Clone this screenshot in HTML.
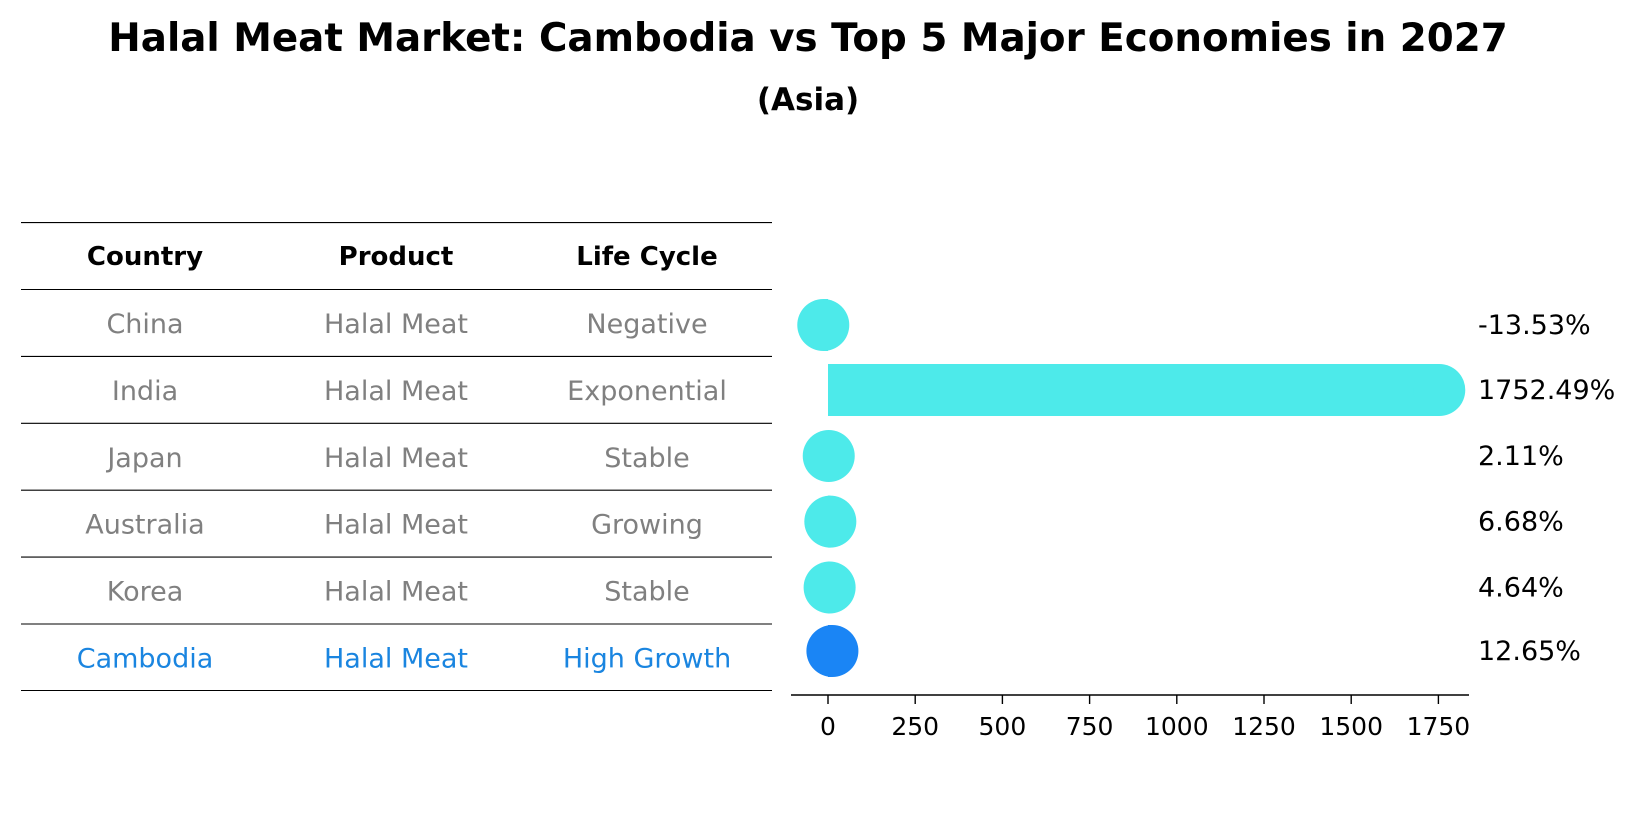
<!DOCTYPE html>
<html><head><meta charset="utf-8">
<style>
body{margin:0;background:#fff;}
svg{display:block;font-family:"DejaVu Sans","Liberation Sans",sans-serif;}
</style></head>
<body>
<svg id="chart" width="1639" height="823">
<text x="808" y="51" text-anchor="middle" font-size="38.8" font-weight="bold">Halal Meat Market: Cambodia vs Top 5 Major Economies in 2027</text>
<text x="808" y="110" text-anchor="middle" font-size="31" font-weight="bold">(Asia)</text>
<g id="table"></g>
<g id="bars"></g>
<g id="axis"></g>
</svg>
<script>
const countries=["China","India","Japan","Australia","Korea","Cambodia"];
const products=["Halal Meat","Halal Meat","Halal Meat","Halal Meat","Halal Meat","Halal Meat"];
const lifeCycles=["Negative","Exponential","Stable","Growing","Stable","High Growth"];
const growth=[-13.53,1752.49,2.11,6.68,4.64,12.65];
const ticks=[0,250,500,750,1000,1250,1500,1750];
const NS="http://www.w3.org/2000/svg";
function mk(t,a,p){const e=document.createElementNS(NS,t);for(const k in a)e.setAttribute(k,a[k]);p.appendChild(e);return e;}
const x=v=>828+v*0.3488;
const lineY=[222.6,289.5,356.4,423.3,490.2,557.1,624,690.5];
const rowY=[325,390,456,521.6,587.5,651];
const tbl=document.getElementById('table');
lineY.forEach((y,i)=>{const l=mk('line',{x1:21,x2:772,y1:y,y2:y,stroke:'#000','stroke-width':1.1},tbl);

});
const cx=[145,396,647];
["Country","Product","Life Cycle"].forEach((h,i)=>{const t=mk('text',{x:cx[i],y:265,'text-anchor':'middle','font-size':26,'font-weight':'bold'},tbl);t.textContent=h;

});
countries.forEach((c,r)=>{
 const col=r===countries.length-1?'#1a85e0':'#808080';
 const ty=(lineY[r+1]+lineY[r+2])/2+10;
 [c,products[r],lifeCycles[r]].forEach((v,i)=>{const t=mk('text',{x:cx[i],y:ty,'text-anchor':'middle','font-size':27,fill:col},tbl);t.textContent=v;
 
 });
});
const bg=document.getElementById('bars');
growth.forEach((v,i)=>{
 const col=i===growth.length-1?'#1a85f5':'#4deaea';
 const y=rowY[i],h=26;
 const x0=x(0),x1=x(v);
 const g=mk('g',{},bg);
 
 
 if(Math.abs(x1-x0)>1) mk('rect',{x:Math.min(x0,x1),y:y-h,width:Math.abs(x1-x0),height:2*h,fill:col},g);
 mk('circle',{cx:x1,cy:y,r:h,fill:col},g);
 const t=mk('text',{x:1478,y:y+9,'font-size':27},bg);t.textContent=v.toFixed(2)+'%';
 
 
});
const ax=document.getElementById('axis');
mk('line',{x1:791,x2:1469,y1:695,y2:695,stroke:'#000','stroke-width':1.4},ax);
ticks.forEach(v=>{mk('line',{x1:x(v),x2:x(v),y1:695,y2:704,stroke:'#000','stroke-width':1.4},ax);
 const t=mk('text',{x:x(v),y:735,'text-anchor':'middle','font-size':25},ax);t.textContent=v;
 
 });
</script>
</body></html>
